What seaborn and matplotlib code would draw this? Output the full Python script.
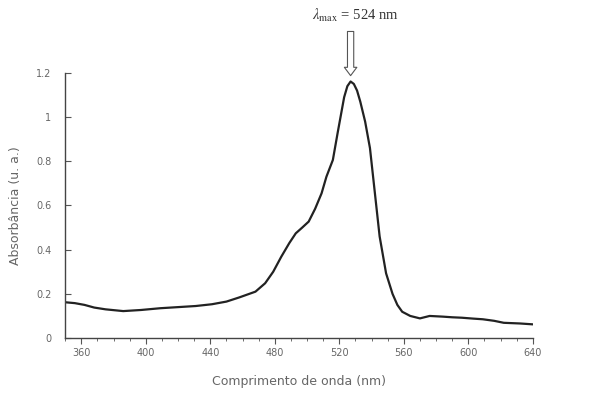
import matplotlib
matplotlib.use("Agg")
import matplotlib.pyplot as plt
import seaborn as sns
import numpy as np
import pandas as pd
from matplotlib.ticker import MultipleLocator

wavelength = [350, 356, 362, 368, 375, 386, 397, 409, 420, 431, 441, 450, 458,
              468, 474, 479, 484, 489, 493, 497, 501, 505, 509, 512, 516, 519,
              521, 523, 525, 527, 529, 531, 533, 536, 539, 542, 545, 549, 553,
              556, 559, 564, 570, 576, 584, 590, 596, 603, 609, 616, 622, 632, 640]
absorbance = [0.162, 0.158, 0.150, 0.138, 0.130, 0.122, 0.127, 0.135, 0.140,
              0.145, 0.153, 0.165, 0.184, 0.21, 0.248, 0.30, 0.368, 0.43,
              0.474, 0.50, 0.527, 0.585, 0.655, 0.73, 0.806, 0.93,
              1.01, 1.09, 1.14, 1.161, 1.15, 1.12, 1.07, 0.98, 0.86, 0.66,
              0.46, 0.293, 0.2, 0.15, 0.119, 0.10, 0.089, 0.10, 0.097, 0.094,
              0.092, 0.088, 0.085, 0.078, 0.069, 0.066, 0.062]
yticks = [0, 0.2, 0.4, 0.6, 0.8, 1.0, 1.2]
ytick_labels = ["0", "0.2", "0.4", "0.6", "0.8", "1", "1.2"]
xticks = [360, 400, 440, 480, 520, 560, 600, 640]

df = pd.DataFrame({"nm": wavelength, "abs": absorbance})

sns.set_style("ticks")
plt.rcParams["font.family"] = ["DejaVu Sans"]
plt.rcParams["mathtext.fontset"] = "stix"

fig = plt.figure(figsize=(5.98, 3.94), dpi=100)
ax = fig.add_axes([0.109, 0.142, 0.782, 0.673])
sns.lineplot(data=df, x="nm", y="abs", ax=ax, color="#222222", linewidth=1.6)

ax.set_xlim(350, 640)
ax.set_ylim(0, 1.2)
ax.set_xticks(xticks)
ax.set_xticklabels([str(v) for v in xticks])
ax.xaxis.set_minor_locator(MultipleLocator(10))
ax.set_yticks(yticks)
ax.set_yticklabels(ytick_labels)
ax.tick_params(axis="x", which="major", direction="out", length=4, width=0.8,
               labelsize=7, colors="#555555", labelcolor="#666666")
ax.tick_params(axis="x", which="minor", direction="out", length=2, width=0.6, colors="#555555")
ax.tick_params(axis="y", direction="in", length=4, width=0.8, labelsize=7,
               colors="#555555", labelcolor="#666666", pad=10)
for s in ["top", "right"]:
    ax.spines[s].set_visible(False)
for s in ["left", "bottom"]:
    ax.spines[s].set_color("#444444")
    ax.spines[s].set_linewidth(1.0)

ax.set_xlabel("Comprimento de onda (nm)", fontsize=9, color="#666666", labelpad=12)
ax.set_ylabel("Absorbância (u. a.)", fontsize=9, color="#666666", labelpad=10)

ax.annotate("", xy=(527, 1.175), xytext=(527, 1.40), xycoords="data",
            annotation_clip=False,
            arrowprops=dict(arrowstyle="simple,head_width=0.9,head_length=0.6,tail_width=0.45",
                            fc="white", ec="#555555", lw=0.8))
ax.text(530, 1.42, r"$\lambda_{\mathrm{max}}$ = 524 nm", ha="center", va="bottom",
        fontsize=10.5, family="Liberation Serif", color="#333333", clip_on=False)

fig.savefig("out.png", dpi=100, facecolor="white")
